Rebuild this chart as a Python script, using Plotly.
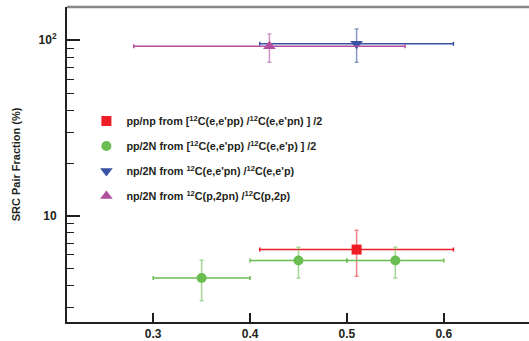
import plotly.graph_objects as go

# ---- data ----
pp_np_x = [0.51]
pp_np_xerr = [0.10]
pp_np_y = [6.44]
pp_np_yerr_up = [1.85]
pp_np_yerr_dn = [1.90]

pp_2n_x = [0.35, 0.45, 0.55]
pp_2n_xerr = [0.05, 0.05, 0.05]
pp_2n_y = [4.44, 5.58, 5.58]
pp_2n_yerr_up = [1.16, 1.06, 1.06]
pp_2n_yerr_dn = [1.14, 1.14, 1.14]

np_2n_e_x = [0.51]
np_2n_e_xerr = [0.10]
np_2n_e_y = [95.3]
np_2n_e_yerr_up = [20.2]
np_2n_e_yerr_dn = [20.6]

np_2n_p_x = [0.42]
np_2n_p_xerr = [0.14]
np_2n_p_y = [92.1]
np_2n_p_yerr_up = [16.1]
np_2n_p_yerr_dn = [17.4]

names = [
    "pp/np from [<sup>12</sup>C(e,e'pp) /<sup>12</sup>C(e,e'pn) ] /2",
    "pp/2N from [<sup>12</sup>C(e,e'pp) /<sup>12</sup>C(e,e'p) ] /2",
    "np/2N from <sup>12</sup>C(e,e'pn) /<sup>12</sup>C(e,e'p)",
    "np/2N from <sup>12</sup>C(p,2pn) /<sup>12</sup>C(p,2p)",
]

x_ticks = [0.3, 0.4, 0.5, 0.6]
y_ticks = [10, 100]
y_ticktext = ["10", "10<sup>2</sup>"]
y_minor = [3, 4, 5, 6, 7, 8, 9, 20, 30, 40, 50, 60, 70, 80, 90]

colors = ["#ee1c25", "#6abd51", "#3853a4", "#b24f9e"]
err_colors = ["rgba(238,28,37,0.55)", "rgba(106,189,81,0.6)", "rgba(56,83,164,0.6)", "rgba(178,79,158,0.6)"]
symbols = ["square", "circle", "triangle-down", "triangle-up"]
sizes = [10, 10, 11, 11]

series = [
    (pp_np_x, pp_np_xerr, pp_np_y, pp_np_yerr_up, pp_np_yerr_dn),
    (pp_2n_x, pp_2n_xerr, pp_2n_y, pp_2n_yerr_up, pp_2n_yerr_dn),
    (np_2n_e_x, np_2n_e_xerr, np_2n_e_y, np_2n_e_yerr_up, np_2n_e_yerr_dn),
    (np_2n_p_x, np_2n_p_xerr, np_2n_p_y, np_2n_p_yerr_up, np_2n_p_yerr_dn),
]

fig = go.Figure()
for i, (x, xe, y, yu, yd) in enumerate(series):
    fig.add_trace(go.Scatter(
        x=x, y=y, mode="markers", name=names[i], legendgroup=str(i),
        marker=dict(symbol=symbols[i], size=sizes[i], color=colors[i], line=dict(width=0)),
        error_x=dict(type="data", array=xe, symmetric=True, color=colors[i], thickness=1.5, width=2),
        error_y=dict(type="data", array=yu, arrayminus=yd, symmetric=False, color=err_colors[i], thickness=1.5, width=2),
    ))

font_family = "Liberation Sans, Arial, sans-serif"

fig.update_layout(
    width=529, height=341,
    margin=dict(l=67, r=0, t=7, b=19, autoexpand=False),
    paper_bgcolor="white", plot_bgcolor="white",
    font=dict(family=font_family, size=11, color="#231f20", weight="bold"),
    showlegend=True,
    legend=dict(
        x=0.042, y=0.684, xanchor="left", yanchor="top",
        bgcolor="rgba(0,0,0,0)", font=dict(size=10.8, weight="bold"),
        tracegroupgap=6, itemsizing="trace",
    ),
    xaxis=dict(
        range=[0.211, 0.688], showgrid=False, zeroline=False, automargin=False,
        showline=True, linecolor="#231f20", linewidth=2,
        ticks="inside", ticklen=9, tickwidth=1.5, tickcolor="#231f20",
        tickvals=x_ticks, ticktext=[f"{v:.1f}" for v in x_ticks],
        tickfont=dict(size=12, weight="bold"), ticklabelstandoff=0,
    ),
    yaxis=dict(
        type="log", range=[0.397, 2.188], showgrid=False, zeroline=False, automargin=False,
        showline=True, linecolor="#231f20", linewidth=2,
        ticks="inside", ticklen=13, tickwidth=1.5, tickcolor="#231f20",
        tickvals=y_ticks, ticktext=y_ticktext,
        tickfont=dict(size=12, weight="bold"),
        ticklabelstandoff=6,
        minor=dict(ticks="inside", ticklen=7, tickwidth=1.2, tickcolor="#231f20", tickvals=y_minor),
        title=dict(text="SRC Pair Fraction (%)", font=dict(size=11, weight="bold"), standoff=16),
    ),
)

fig.add_shape(type="line", xref="paper", yref="paper", x0=0, x1=1, y0=1, y1=1,
              line=dict(color="#8a8585", width=2.5))

fig.write_html("out.html", config={"displayModeBar": False},
               post_script="document.body.style.margin='0';document.body.style.overflow='hidden';")
